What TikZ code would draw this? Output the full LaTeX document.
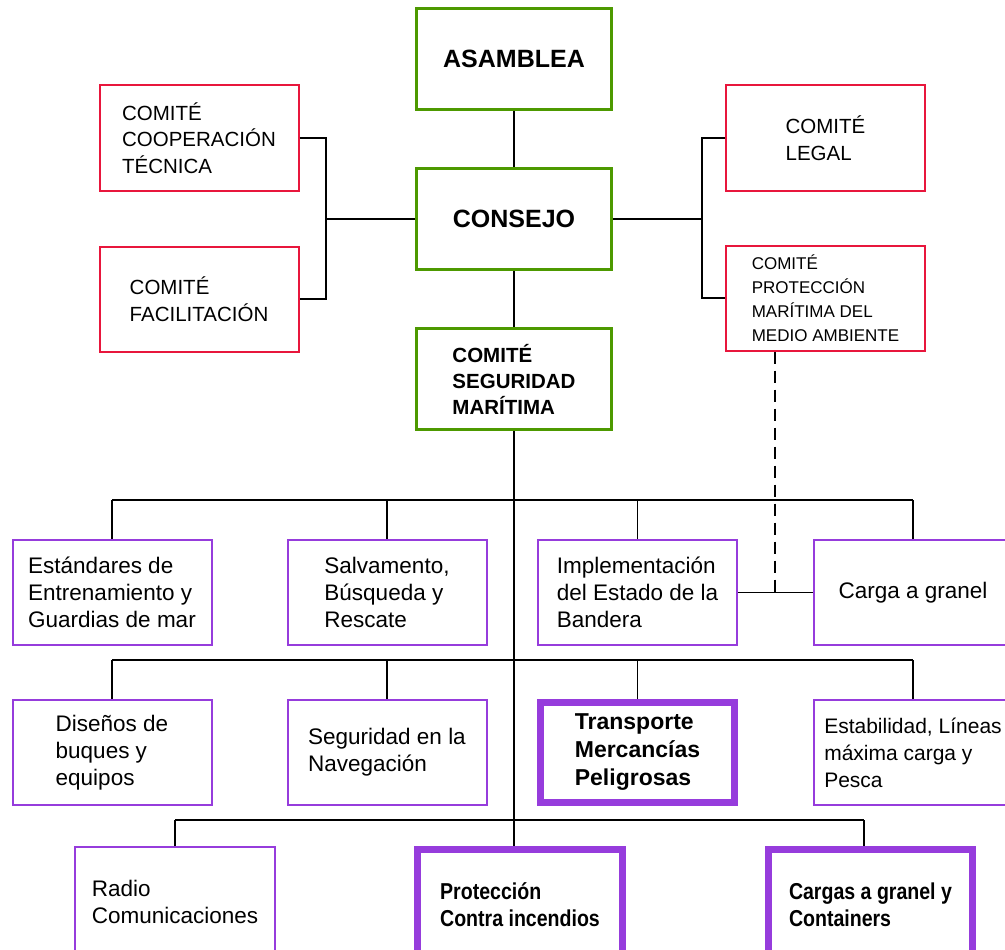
\documentclass[tikz,border=0pt]{standalone}
\usepackage{fontspec}
\setmainfont{Liberation Sans}
\newfontfamily\narrowsans{Liberation Sans}[FakeStretch=0.85]
\usepackage{tikz}
\usetikzlibrary{positioning, calc}
\definecolor{orggreen}{RGB}{77,153,0}
\definecolor{cmtred}{RGB}{232,22,60}
\definecolor{subpurple}{RGB}{150,60,220}
\tikzset{
  box/.style    = {draw, align=left, inner sep=0pt, fill=white},
  org/.style    = {box, draw=orggreen, line width=3pt, minimum width=195pt,
                   minimum height=101pt, font=\fontsize{25}{30}\selectfont\bfseries},
  cmt/.style    = {box, draw=cmtred, line width=2pt, minimum width=199pt,
                   minimum height=105pt, font=\fontsize{20.5}{26.5}\selectfont},
  sub/.style    = {box, draw=subpurple, line width=2pt, minimum width=199pt,
                   minimum height=105pt, font=\fontsize{22.5}{27}\selectfont},
  key/.style    = {box, draw=subpurple, line width=7pt, minimum width=194pt,
                   minimum height=100pt, font=\fontsize{23}{28}\selectfont\bfseries},
  link/.style   = {line width=1.2pt},
  dash link/.style = {link, dash pattern=on 12pt off 7pt},
}

\begin{document}
\begin{tikzpicture}[x=1pt, y=-1pt]
  \useasboundingbox (0,0) rectangle (1005,950);
  \clip (0,0) rectangle (1005,950);

  % top of the organisation
  \node[org] (asam)    at (514,59)  {ASAMBLEA};
  \node[org] (consejo) at (514,219) {CONSEJO};
  \node[org, font=\fontsize{20.5}{26}\selectfont\bfseries] (msc) at (514,379)
    {COMITÉ\\SEGURIDAD\\MARÍTIMA};

  % committees beside the council
  \node[cmt] (coop)  at (199,138)   {COMITÉ\\COOPERACIÓN\\TÉCNICA};
  \node[cmt] (facil) at (199,299)   {COMITÉ\\FACILITACIÓN};
  \node[cmt] (legal) at (825.5,138) {COMITÉ\\LEGAL};
  \node[cmt, font=\fontsize{17}{24}\selectfont] (pmma) at (825.5,298)
    {COMITÉ\\PROTECCIÓN\\MARÍTIMA DEL\\MEDIO AMBIENTE};

  % sub-committees, first row
  \node[sub] (stcw) at (112,592.5)   {Estándares de\\Entrenamiento y\\Guardias de mar};
  \node[sub] (sar)  at (387,592.5)   {Salvamento,\\Búsqueda y\\Rescate};
  \node[sub] (fsi)  at (637.5,592.5) {Implementación\\del Estado de la\\Bandera};
  \node[sub] (blg)  at (913,592.5)   {Carga a granel};

  % second row
  \node[sub] (dsd) at (112,752.5)   {Diseños de\\buques y\\equipos};
  \node[sub] (nav) at (387,752.5)   {Seguridad en la\\Navegación};
  \node[key] (dsc) at (637.5,752.5) {Transporte\\Mercancías\\Peligrosas};
  \node[sub, font=\fontsize{21}{27}\selectfont] (slf) at (913,752.5)
    {Estabilidad, Líneas\\máxima carga y\\Pesca};

  % third row
  \node[sub, minimum width=200pt, minimum height=110pt] (radio) at (175,902)
    {Radio\\Comunicaciones};
  \node[key, minimum width=205pt, minimum height=110pt,
        font=\narrowsans\fontsize{23}{27}\selectfont\bfseries] (fp) at (520,904.5)
    {Protección\\Contra incendios};
  \node[key, minimum width=204pt, minimum height=110pt,
        font=\narrowsans\fontsize{23}{27}\selectfont\bfseries] (bc) at (870.5,904.5)
    {Cargas a granel y\\Containers};

  % main spine
  \draw[link] (asam) -- (consejo);
  \draw[link] (consejo) -- (msc);
  \draw[link] (msc.south) -- (msc.south |- fp.north);

  % brackets to the committees
  \coordinate (lj) at (326,219);
  \coordinate (rj) at (702,219);
  \draw[link] (consejo.west) -- (lj);
  \draw[link] (coop.east) -- (coop.east -| lj) -- (facil.east -| lj) -- (facil.east);
  \draw[link] (consejo.east) -- (rj);
  \draw[link] (legal.west) -- (legal.west -| rj) -- (pmma.west -| rj) -- (pmma.west);

  % buses to the sub-committees
  \coordinate (bus1) at (513,500);
  \coordinate (bus2) at (513,660);
  \coordinate (bus3) at (513,820);
  \draw[link] (stcw.north |- bus1) -- (blg.north |- bus1);
  \foreach \n in {stcw, sar, fsi, blg}
    \draw[link] (\n.north) -- (\n.north |- bus1);
  \draw[link] (dsd.north |- bus2) -- (slf.north |- bus2);
  \foreach \n in {dsd, nav, dsc, slf}
    \draw[link] (\n.north) -- (\n.north |- bus2);
  \coordinate (bcdrop) at (864,820);
  \draw[link] (radio.north |- bus3) -- (bcdrop);
  \draw[link] (radio.north) -- (radio.north |- bus3);
  \draw[link] (bcdrop) -- (bcdrop |- bc.north);

  % flag state and bulk cargo, with the dashed tie
  \coordinate (dj) at (775,592.5);
  \draw[link] (fsi.east) -- (blg.west);
  \draw[dash link] (pmma.south -| dj) -- (dj);
\end{tikzpicture}
\end{document}
